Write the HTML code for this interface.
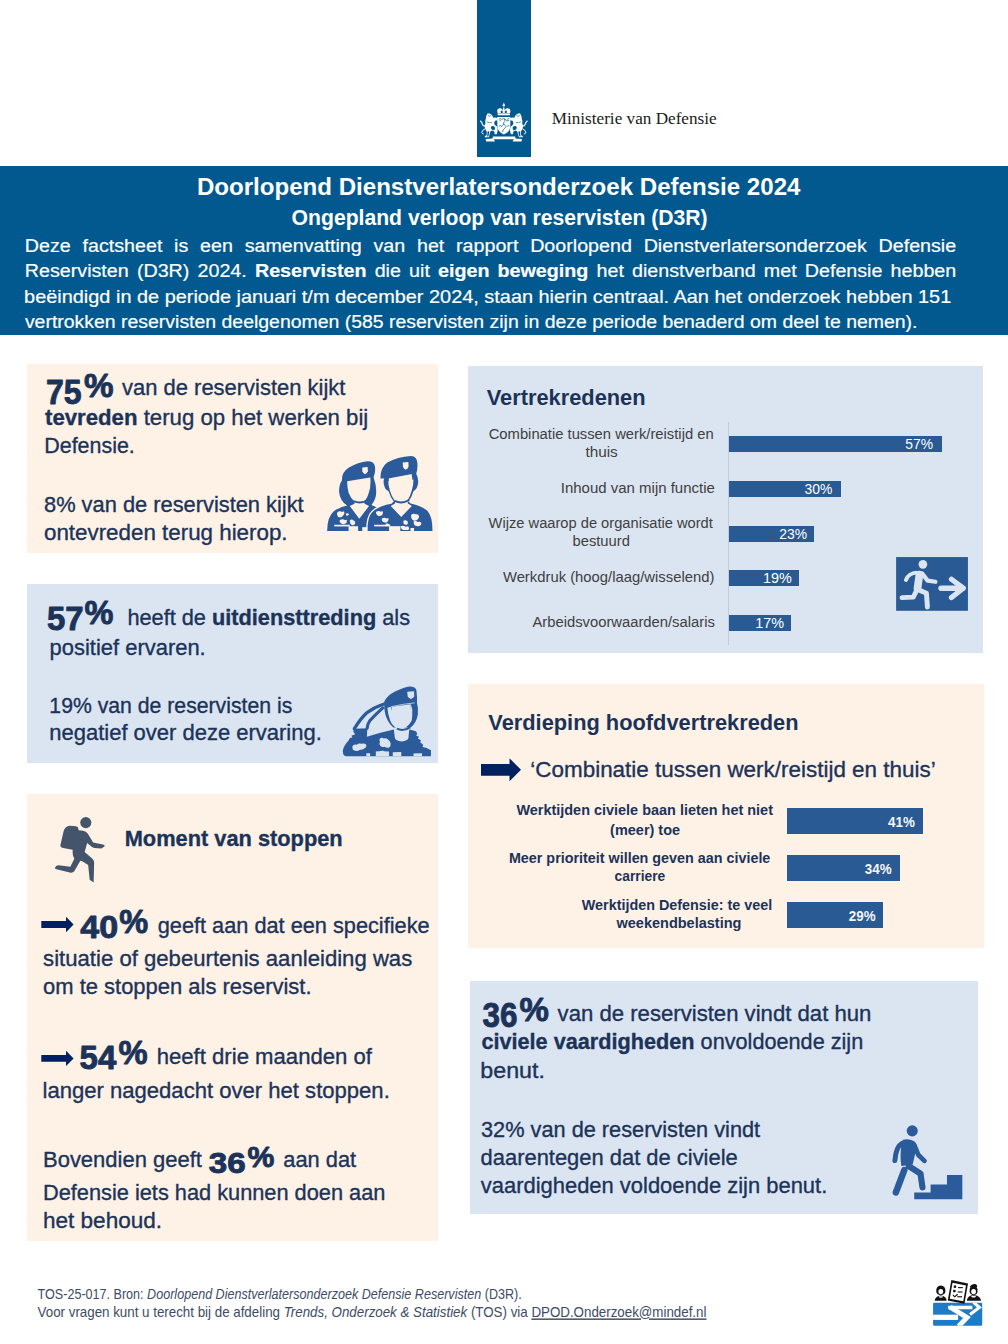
<!DOCTYPE html>
<html lang="nl"><head><meta charset="utf-8"><title>Ongepland verloop van reservisten (D3R)</title>
<style>
html,body{margin:0;padding:0;background:#fff;}
body{width:1008px;height:1344px;overflow:hidden;}
svg{display:block;}
text{font-kerning:normal;}
</style></head><body>
<svg width="1008" height="1344" viewBox="0 0 1008 1344">
<rect x="0" y="0" width="1008" height="1344" fill="#FFFFFF"/>
<!-- logo bar -->
<rect x="477" y="0" width="54" height="157" fill="#01598F"/>
<!-- crest -->
<g transform="translate(470 90) scale(0.069444)">
  <g id="lionL">
    <path fill="#FFFFFF" d="M255 335 Q295 335 318 362 Q332 385 336 400 L362 396 L398 404 L396 434 L362 442 Q346 460 350 490 Q362 515 392 530 Q405 570 392 612 L384 636 L352 636 L356 612 Q345 590 318 582 Q300 584 292 602 L282 642 Q275 668 268 682 L212 682 L216 662 L238 652 Q246 620 240 596 Q218 570 212 536 Q208 505 222 478 Q214 450 226 420 Q228 370 255 335 Z"/>
    <path fill="none" stroke="#FFFFFF" stroke-width="16" stroke-linecap="round" d="M222 520 Q185 520 178 490 Q172 462 150 446"/>
    <path fill="none" stroke="#FFFFFF" stroke-width="14" stroke-linecap="round" d="M214 560 Q175 575 170 610 Q170 630 190 632"/>
    <path fill="#01598F" d="M318 520 Q345 515 360 540 Q362 565 345 585 Q330 570 318 572 Q300 560 300 540 Q305 525 318 520 Z"/>
    <path fill="#01598F" d="M252 600 Q262 590 278 598 L270 650 L258 668 L246 668 Q254 640 252 600 Z"/>
    <path fill="none" stroke="#01598F" stroke-width="9" stroke-linecap="round" d="M262 372 Q282 382 300 372 M246 460 Q275 478 310 470"/>
  </g>
  <use href="#lionL" transform="translate(974 0) scale(-1 1)"/>
  <g fill="#FFFFFF">
    <circle cx="487" cy="220" r="17"/>
    <rect x="482" y="184" width="10" height="22"/>
    <path d="M392 300 Q392 262 434 262 Q466 264 474 290 Q478 250 487 242 Q496 250 500 290 Q508 264 540 262 Q582 262 582 300 L576 338 L398 338 Z"/>
    <rect x="398" y="342" width="178" height="22"/>
    <path d="M392 388 L582 388 L580 530 Q572 608 487 640 Q402 608 394 530 Z"/>
    <path d="M330 668 L650 668 L658 708 L322 708 Z"/>
    <path d="M226 704 L338 698 L360 740 L232 740 Z"/>
    <path d="M636 698 L748 704 L742 740 L614 740 Z"/>
  </g>
  <g fill="#01598F">
    <path d="M442 300 Q456 290 470 302 L472 330 L444 330 Z"/>
    <path d="M502 302 Q516 290 530 300 L528 330 L500 330 Z"/>
  </g>
  <g fill="none" stroke="#01598F" stroke-width="10" stroke-linecap="round" stroke-linejoin="round">
    <path d="M420 420 L440 412 M430 440 L450 430 M540 420 L560 412 M535 445 L556 438 M420 520 L440 512 M540 520 L560 512"/>
    <path d="M462 420 Q480 405 500 418 Q510 438 494 455 Q478 470 486 492 Q508 505 520 530 Q505 548 490 560 Q470 575 470 600 M486 492 Q460 505 450 530 M500 418 Q520 420 525 440"/>
  </g>
</g>

<!-- header band -->
<rect x="0" y="166" width="1008" height="169" fill="#01598F"/>

<!-- boxes -->
<rect x="27" y="364" width="411" height="189" fill="#FEF2E7"/>
<rect x="27" y="584" width="411" height="179" fill="#DBE5F1"/>
<rect x="27" y="794" width="411" height="447" fill="#FEF2E7"/>
<rect x="468" y="366" width="515" height="287" fill="#DBE5F1"/>
<rect x="468" y="684" width="516" height="264" fill="#FEF2E7"/>
<rect x="470" y="981" width="508" height="233" fill="#DBE5F1"/>

<!-- axis line vertrekredenen -->
<rect x="728" y="422" width="1" height="223" fill="#C5CCD8"/>

<!-- soldiers icon (box 1) -->
<g transform="translate(320 450) scale(0.119048)">
  <!-- female -->
  <path fill="#2B5B9B" d="M185 255 Q180 190 240 150 Q320 100 400 95 Q455 95 462 140 Q468 190 450 228 Q475 300 472 360 Q470 420 432 462 L470 478 Q520 500 520 560 L520 680 L60 680 Q60 560 118 512 Q168 480 228 466 Q168 430 160 350 Q160 290 185 255 Z"/>
  <path fill="#FEF2E7" d="M228 262 L422 232 Q430 300 410 360 Q395 410 372 430 L374 452 L412 470 L330 578 L250 470 L290 452 L292 432 Q255 405 240 360 Q228 310 228 262 Z"/>
  <path fill="none" stroke="#2B5B9B" stroke-width="16" d="M286 430 Q340 458 410 416"/>
  <!-- male -->
  <path fill="#2B5B9B" stroke="#FEF2E7" stroke-width="22" paint-order="stroke" d="M508 240 Q505 150 565 105 Q650 55 765 50 Q815 52 818 110 Q822 160 808 200 Q832 240 822 290 Q812 332 786 345 Q770 400 742 432 L762 450 Q860 470 905 515 Q945 560 945 680 L398 680 Q398 560 440 520 Q490 472 600 452 L620 432 Q590 395 575 345 Q548 335 540 300 Q528 262 540 240 Z"/>
  <path fill="#FEF2E7" d="M572 240 L785 200 Q790 280 770 345 Q755 395 735 425 L738 450 L772 470 L682 562 L594 470 L630 450 L630 428 Q600 390 588 345 Q572 300 572 240 Z"/>
  <path fill="none" stroke="#2B5B9B" stroke-width="16" d="M626 428 Q690 458 750 418"/>
  <!-- ear notches -->
  <path fill="#2B5B9B" d="M560 236 L578 236 L578 262 L566 262 Z"/>
  <path fill="#2B5B9B" d="M770 200 L790 200 L788 250 L776 250 Z"/>
  <!-- badges -->
  <path fill="#FEF2E7" d="M355 148 L400 142 L402 178 Q392 198 378 204 Q362 195 356 180 Z"/>
  <path fill="#FEF2E7" d="M695 105 L742 100 L744 140 Q734 160 720 165 Q702 156 697 140 Z"/>
  <!-- camo spots -->
  <g fill="#FEF2E7">
    <path d="M145 525 Q165 505 185 520 L200 515 Q212 530 198 545 L185 560 Q165 572 150 558 Q138 540 145 525 Z"/>
    <path d="M165 590 Q190 575 210 590 L225 585 Q232 605 215 618 Q195 628 178 618 Q160 606 165 590 Z"/>
    <path d="M215 535 Q232 525 245 540 Q238 555 222 552 Z"/>
    <path d="M250 590 Q268 578 282 592 L295 600 Q300 620 284 630 Q266 636 256 622 Z"/>
    <path d="M470 520 Q490 505 510 518 L525 512 Q535 530 522 545 Q505 560 486 552 Q468 540 470 520 Z"/>
    <path d="M520 575 Q540 562 560 575 L575 572 Q580 595 565 605 Q545 615 528 603 Q515 590 520 575 Z"/>
    <path d="M548 620 Q568 612 585 625 Q580 642 560 640 Z"/>
    <path d="M765 545 Q785 528 805 540 Q825 535 832 555 Q835 578 815 588 Q795 600 778 588 Q762 570 765 545 Z"/>
    <path d="M785 600 Q805 592 822 605 Q840 598 852 615 Q848 640 825 640 Q800 642 790 625 Z"/>
    <path d="M700 595 Q718 585 735 598 Q745 615 730 628 Q712 632 702 618 Z"/>
    <path d="M675 640 Q700 630 720 645 L740 640 Q755 655 745 672 L700 672 Q680 665 675 640 Z"/>
    <rect x="120" y="628" width="130" height="14"/>
    <rect x="455" y="628" width="135" height="14"/>
    <rect x="240" y="640" width="80" height="40"/>
    <rect x="355" y="648" width="43" height="32"/>
    <rect x="580" y="640" width="95" height="40"/>
    <rect x="760" y="655" width="30" height="25"/>
  </g>
</g>

<!-- salute icon (box 2) -->
<g transform="translate(330 675) scale(0.109122)">
  <!-- body -->
  <path fill="#2B5B9B" d="M118 690 Q125 650 172 598 L182 578 L205 572 L196 556 L232 542 L214 522 L222 492 L342 488 L338 566 Q450 530 585 500 Q600 590 655 600 Q715 595 728 500 Q770 508 790 518 L800 540 L788 552 L815 565 L806 582 L834 600 L826 616 L854 640 L848 660 L886 670 L925 690 L925 745 L145 745 Q112 735 118 690 Z"/>
  <!-- arm outlines -->
  <path fill="none" stroke="#2B5B9B" stroke-width="30" stroke-linecap="round" d="M490 268 Q405 295 335 348 Q275 405 222 494"/>
  <path fill="none" stroke="#2B5B9B" stroke-width="28" stroke-linecap="round" d="M484 302 Q425 355 365 418 Q343 450 340 490"/>
  <!-- head outline + beret -->
  <path fill="#2B5B9B" d="M496 248 Q520 190 600 150 Q680 110 730 105 Q785 105 792 140 Q800 200 797 259 Q812 300 805 364 Q790 440 740 482 L581 482 Q525 430 508 364 Q494 310 496 248 Z"/>
  <!-- face -->
  <path fill="#DBE5F1" d="M526 300 L558 292 L560 330 L566 292 L740 268 L742 315 L745 273 L754 318 Q756 380 749 418 Q730 460 695 480 Q650 492 608 487 Q560 450 549 409 Q528 350 526 300 Z"/>
  <!-- neck -->
  <path fill="#DBE5F1" d="M585 492 Q650 505 722 496 L720 575 Q712 606 658 609 Q600 606 594 575 Z"/>
  <path fill="none" stroke="#2B5B9B" stroke-width="18" d="M612 492 Q672 520 735 480"/>
  <!-- beret band highlight -->
  <path fill="none" stroke="#DBE5F1" stroke-width="7" d="M558 291 Q670 265 776 255"/>
  <!-- badge -->
  <path fill="#DBE5F1" d="M708 153 L770 150 L772 196 Q760 212 742 220 Q722 210 712 196 Z"/>
  <!-- camo -->
  <g fill="#DBE5F1">
    <path d="M206 650 Q222 628 245 640 Q262 622 290 630 Q318 622 332 640 Q338 662 318 672 Q300 690 276 684 Q252 700 230 694 Q204 690 206 670 Z"/>
    <path d="M456 585 Q472 568 494 582 Q515 576 532 592 Q552 606 556 628 Q560 652 540 666 Q520 672 500 658 Q478 666 462 650 Q446 632 458 612 Q448 598 456 585 Z"/>
    <path d="M333 718 L368 716 L368 745 L333 745 Z"/>
    <path d="M420 700 L470 696 Q482 688 494 698 L541 700 L541 745 L420 745 Z"/>
    <path d="M575 708 L653 706 L653 745 L575 745 Z"/>
    <path d="M765 720 L843 718 L843 745 L765 745 Z"/>
  </g>
</g>
</g>

<!-- running man (box 3) -->
<g transform="translate(45 810) scale(0.079365)" fill="#44546A">
  <circle cx="514" cy="159" r="70"/>
  <path d="M236 262 Q255 202 312 197 L390 206 Q428 216 422 262 L400 468 Q395 505 346 500 L229 479 Q188 470 195 437 Z"/>
  <path d="M400 252 L480 262 Q520 266 540 300 L607 410 L731 436 Q758 443 752 458 L710 486 L621 479 Q590 470 566 445 L531 415 L500 530 L594 612 Q624 640 619 672 L613 915 L563 878 L544 692 L469 647 L450 640 L375 622 Q340 575 350 495 L360 420 Z"/>
  <path d="M378 600 L452 628 L369 772 Q352 792 325 790 L144 747 L122 734 Q135 700 169 697 L319 716 Z"/>
</g>

<!-- exit sign -->
<g transform="translate(885 550) scale(0.094251)">
  <rect x="118" y="75" width="762" height="570" fill="#2A5A94"/>
  <g fill="#DBE5F1" stroke="#DBE5F1" stroke-linecap="round" stroke-linejoin="round">
    <circle cx="402" cy="152" r="46" stroke="none"/>
    <path fill="none" stroke-width="82" d="M365 262 L345 405"/>
    <path fill="none" stroke-width="42" d="M335 240 Q250 245 222 318"/>
    <path fill="none" stroke-width="45" d="M395 250 L452 325 L535 337"/>
    <path fill="none" stroke-width="52" d="M335 430 L300 500 L180 505"/>
    <path fill="none" stroke-width="52" d="M360 425 L440 460 L450 605"/>
    <path fill="none" stroke-width="58" d="M595 405 L825 405"/>
    <path fill="none" stroke-width="55" d="M705 310 L830 405 L705 505"/>
  </g>
</g>

<!-- stairs icon -->
<g transform="translate(880 1115) scale(0.099206)" fill="#2B5B9B" stroke="#2B5B9B" stroke-linecap="round" stroke-linejoin="round">
  <path stroke="none" d="M345 780 L510 780 L510 700 L675 700 L675 605 L830 605 L830 850 L345 850 Z"/>
  <circle cx="325" cy="160" r="56" stroke="none"/>
  <path stroke="none" d="M230 250 Q290 235 345 265 Q370 290 368 330 L330 500 L215 515 Q200 420 215 300 Z"/>
  <path fill="none" stroke-width="50" d="M225 285 Q160 320 150 460"/>
  <path fill="none" stroke-width="48" d="M345 300 L385 400 L448 462"/>
  <path fill="none" stroke-width="66" d="M245 555 L160 780"/>
  <path fill="none" stroke-width="62" d="M290 515 L408 590 L428 730"/>
</g>

<!-- arrows -->
<g fill="#002060">
  <path d="M41.3 921 L66 921 L66 916.8 L73.6 924.5 L66 932.2 L66 928 L41.3 928 Z"/>
  <path d="M41.3 1055 L66 1055 L66 1050.8 L73.6 1058.4 L66 1066 L66 1061.8 L41.3 1061.8 Z"/>
  <path d="M481 763.9 L509.5 763.9 L509.5 758.3 L521 769.8 L509.5 781.3 L509.5 775.8 L481 775.8 Z"/>
</g>

<!-- footer icon -->
<g transform="translate(920 1270) scale(0.079365)">
  <defs><clipPath id="fclip"><rect x="165" y="412" width="619" height="291" rx="17"/></clipPath></defs>
  <rect x="165" y="412" width="619" height="291" rx="17" fill="#1E7BC8"/>
  <g clip-path="url(#fclip)" fill="#FFFFFF" stroke="#FFFFFF" stroke-linejoin="miter">
    <rect x="150" y="563" width="330" height="66" stroke="none"/>
    <path fill="none" stroke-width="62" d="M380 468 L592 598 L485 710"/>
    <path stroke="none" d="M357 451 L660 451 L660 496 L357 496 Q345 473 357 451 Z"/>
    <path fill="none" stroke-width="40" d="M672 405 L748 472 L630 560"/>
  </g>
  <g fill="#111111">
    <path d="M205 270 Q200 200 262 196 Q325 200 320 270 Q318 310 262 318 Q208 310 205 270 Z"/>
    <path d="M185 388 Q190 332 262 322 Q335 332 335 388 Z"/>
    <path d="M395 125 L605 170 L560 425 L350 385 Z"/>
    <path d="M625 270 Q620 200 675 196 Q730 200 725 270 Q722 310 675 318 Q628 310 625 270 Z"/>
    <path d="M625 215 Q650 172 705 178 Q725 190 720 215 Z"/>
    <path d="M590 388 Q595 322 675 316 Q760 322 770 388 Z"/>
  </g>
  <path fill="#FFFFFF" d="M410 160 L580 195 L545 395 L375 362 Z"/>
  <g fill="#111111">
    <rect x="425" y="195" width="30" height="30"/>
    <rect x="418" y="250" width="30" height="30"/>
    <path d="M410 320 L425 310 L435 330 L470 300 L480 312 L437 348 Z"/>
    <rect x="480" y="215" width="60" height="14"/>
    <rect x="475" y="270" width="60" height="14"/>
    <rect x="470" y="330" width="60" height="14"/>
  </g>
  <ellipse cx="262" cy="272" rx="30" ry="34" fill="#FFFFFF"/>
  <ellipse cx="675" cy="272" rx="30" ry="34" fill="#FFFFFF"/>
  <path fill="#FFFFFF" d="M232 340 Q262 360 292 340 L285 330 L240 330 Z"/>
  <path fill="#FFFFFF" d="M645 336 Q675 358 705 336 L698 326 L652 326 Z"/>
</g>

<rect x="729" y="436" width="213" height="16" fill="#2A5A94"/>
<rect x="729" y="481" width="112" height="16" fill="#2A5A94"/>
<rect x="729" y="526" width="85" height="16" fill="#2A5A94"/>
<rect x="729" y="570" width="70" height="16" fill="#2A5A94"/>
<rect x="729" y="615" width="62" height="16" fill="#2A5A94"/>
<rect x="787" y="808" width="136" height="26" fill="#2A5A94"/>
<rect x="787" y="855" width="113" height="26" fill="#2A5A94"/>
<rect x="787" y="902" width="96" height="26" fill="#2A5A94"/>
<text transform="translate(551.70 123.80) scale(1.0105 1)" fill="#1A1A1A" style="font-family:'Liberation Serif', serif;font-size:17.00px;">Ministerie van Defensie</text>
<text transform="translate(196.90 194.60) scale(1.0040 1)" fill="#FFFFFF" style="font-family:'Liberation Sans', Arial, sans-serif;font-size:24.00px;"><tspan font-weight="bold">Doorlopend Dienstverlatersonderzoek Defensie 2024</tspan></text>
<text transform="translate(291.60 224.60) scale(0.9705 1)" fill="#FFFFFF" style="font-family:'Liberation Sans', Arial, sans-serif;font-size:21.80px;"><tspan font-weight="bold">Ongepland verloop van reservisten (D3R)</tspan></text>
<text transform="translate(24.82 251.80) scale(1.0756 1)" fill="#FFFFFF" style="font-family:'Liberation Sans', Arial, sans-serif;font-size:18.30px;word-spacing:5.84px;stroke:#FFFFFF;stroke-width:0.20px;stroke-linejoin:round;">Deze factsheet is een samenvatting van het rapport Doorlopend Dienstverlatersonderzoek Defensie</text>
<text transform="translate(24.82 276.90) scale(1.0756 1)" fill="#FFFFFF" style="font-family:'Liberation Sans', Arial, sans-serif;font-size:18.30px;word-spacing:2.50px;stroke:#FFFFFF;stroke-width:0.20px;stroke-linejoin:round;">Reservisten (D3R) 2024. <tspan font-weight="bold">Reservisten</tspan> die uit <tspan font-weight="bold">eigen beweging</tspan> het dienstverband met Defensie hebben</text>
<text transform="translate(24.11 302.90) scale(1.0884 1)" fill="#FFFFFF" style="font-family:'Liberation Sans', Arial, sans-serif;font-size:18.30px;stroke:#FFFFFF;stroke-width:0.20px;stroke-linejoin:round;">beëindigd in de periode januari t/m december 2024, staan hierin centraal. Aan het onderzoek hebben 151</text>
<text transform="translate(24.90 327.90) scale(1.0627 1)" fill="#FFFFFF" style="font-family:'Liberation Sans', Arial, sans-serif;font-size:18.30px;stroke:#FFFFFF;stroke-width:0.20px;stroke-linejoin:round;">vertrokken reservisten deelgenomen (585 reservisten zijn in deze periode benaderd om deel te nemen).</text>
<text transform="translate(46.00 403.80) scale(0.9035 1)" fill="#1C3359" style="font-family:'Liberation Sans', Arial, sans-serif;font-size:35.50px;stroke:#1C3359;stroke-width:0.90px;stroke-linejoin:round;"><tspan font-weight="bold">75</tspan></text>
<text transform="translate(84.00 397.00) scale(1.0069 1)" fill="#1C3359" style="font-family:'Liberation Sans', Arial, sans-serif;font-size:33.00px;stroke:#1C3359;stroke-width:0.90px;stroke-linejoin:round;"><tspan font-weight="bold">%</tspan></text>
<text transform="translate(122.10 394.80) scale(0.9984 1)" fill="#1C3359" style="font-family:'Liberation Sans', Arial, sans-serif;font-size:22.00px;stroke:#1C3359;stroke-width:0.35px;stroke-linejoin:round;">van de reservisten kijkt</text>
<text transform="translate(45.00 424.90) scale(1.0094 1)" fill="#1C3359" style="font-family:'Liberation Sans', Arial, sans-serif;font-size:22.00px;stroke:#1C3359;stroke-width:0.35px;stroke-linejoin:round;"><tspan font-weight="bold">tevreden</tspan> terug op het werken bij</text>
<text transform="translate(44.23 453.20) scale(0.9744 1)" fill="#1C3359" style="font-family:'Liberation Sans', Arial, sans-serif;font-size:22.00px;stroke:#1C3359;stroke-width:0.35px;stroke-linejoin:round;">Defensie.</text>
<text transform="translate(44.00 511.80) scale(0.9933 1)" fill="#1C3359" style="font-family:'Liberation Sans', Arial, sans-serif;font-size:22.00px;stroke:#1C3359;stroke-width:0.35px;stroke-linejoin:round;">8% van de reservisten kijkt</text>
<text transform="translate(44.00 540.40) scale(1.0163 1)" fill="#1C3359" style="font-family:'Liberation Sans', Arial, sans-serif;font-size:22.00px;stroke:#1C3359;stroke-width:0.35px;stroke-linejoin:round;">ontevreden terug hierop.</text>
<text transform="translate(46.92 630.20) scale(0.9823 1)" fill="#1C3359" style="font-family:'Liberation Sans', Arial, sans-serif;font-size:33.50px;stroke:#1C3359;stroke-width:0.90px;stroke-linejoin:round;"><tspan font-weight="bold">57</tspan></text>
<text transform="translate(84.40 624.40) scale(0.9862 1)" fill="#1C3359" style="font-family:'Liberation Sans', Arial, sans-serif;font-size:33.00px;stroke:#1C3359;stroke-width:0.90px;stroke-linejoin:round;"><tspan font-weight="bold">%</tspan></text>
<text transform="translate(127.41 624.50) scale(0.9885 1)" fill="#1C3359" style="font-family:'Liberation Sans', Arial, sans-serif;font-size:22.00px;stroke:#1C3359;stroke-width:0.35px;stroke-linejoin:round;">heeft de <tspan font-weight="bold">uitdiensttreding</tspan> als</text>
<text transform="translate(49.60 655.30) scale(0.9973 1)" fill="#1C3359" style="font-family:'Liberation Sans', Arial, sans-serif;font-size:22.00px;stroke:#1C3359;stroke-width:0.35px;stroke-linejoin:round;">positief ervaren.</text>
<text transform="translate(49.34 712.60) scale(0.9645 1)" fill="#1C3359" style="font-family:'Liberation Sans', Arial, sans-serif;font-size:22.00px;stroke:#1C3359;stroke-width:0.35px;stroke-linejoin:round;">19% van de reservisten is</text>
<text transform="translate(49.30 740.40) scale(0.9996 1)" fill="#1C3359" style="font-family:'Liberation Sans', Arial, sans-serif;font-size:22.00px;stroke:#1C3359;stroke-width:0.35px;stroke-linejoin:round;">negatief over deze ervaring.</text>
<text transform="translate(124.71 846.40) scale(0.9914 1)" fill="#1C3359" style="font-family:'Liberation Sans', Arial, sans-serif;font-size:22.00px;stroke:#1C3359;stroke-width:0.35px;stroke-linejoin:round;"><tspan font-weight="bold">Moment van stoppen</tspan></text>
<text transform="translate(80.30 937.50) scale(1.0806 1)" fill="#1C3359" style="font-family:'Liberation Sans', Arial, sans-serif;font-size:31.50px;stroke:#1C3359;stroke-width:0.90px;stroke-linejoin:round;"><tspan font-weight="bold">40</tspan></text>
<text transform="translate(119.20 932.50) scale(0.9862 1)" fill="#1C3359" style="font-family:'Liberation Sans', Arial, sans-serif;font-size:33.00px;stroke:#1C3359;stroke-width:0.90px;stroke-linejoin:round;"><tspan font-weight="bold">%</tspan></text>
<text transform="translate(157.70 932.80) scale(0.9888 1)" fill="#1C3359" style="font-family:'Liberation Sans', Arial, sans-serif;font-size:22.00px;stroke:#1C3359;stroke-width:0.35px;stroke-linejoin:round;">geeft aan dat een specifieke</text>
<text transform="translate(43.10 965.90) scale(1.0065 1)" fill="#1C3359" style="font-family:'Liberation Sans', Arial, sans-serif;font-size:22.00px;stroke:#1C3359;stroke-width:0.35px;stroke-linejoin:round;">situatie of gebeurtenis aanleiding was</text>
<text transform="translate(43.10 993.90) scale(0.9982 1)" fill="#1C3359" style="font-family:'Liberation Sans', Arial, sans-serif;font-size:22.00px;stroke:#1C3359;stroke-width:0.35px;stroke-linejoin:round;">om te stoppen als reservist.</text>
<text transform="translate(79.59 1069.30) scale(1.0150 1)" fill="#1C3359" style="font-family:'Liberation Sans', Arial, sans-serif;font-size:32.50px;stroke:#1C3359;stroke-width:0.90px;stroke-linejoin:round;"><tspan font-weight="bold">54</tspan></text>
<text transform="translate(118.40 1063.80) scale(0.9931 1)" fill="#1C3359" style="font-family:'Liberation Sans', Arial, sans-serif;font-size:33.00px;stroke:#1C3359;stroke-width:0.90px;stroke-linejoin:round;"><tspan font-weight="bold">%</tspan></text>
<text transform="translate(156.69 1063.80) scale(1.0064 1)" fill="#1C3359" style="font-family:'Liberation Sans', Arial, sans-serif;font-size:22.00px;stroke:#1C3359;stroke-width:0.35px;stroke-linejoin:round;">heeft drie maanden of</text>
<text transform="translate(42.50 1097.50) scale(1.0037 1)" fill="#1C3359" style="font-family:'Liberation Sans', Arial, sans-serif;font-size:22.00px;stroke:#1C3359;stroke-width:0.35px;stroke-linejoin:round;">langer nagedacht over het stoppen.</text>
<text transform="translate(43.00 1166.80) scale(0.9993 1)" fill="#1C3359" style="font-family:'Liberation Sans', Arial, sans-serif;font-size:22.00px;stroke:#1C3359;stroke-width:0.35px;stroke-linejoin:round;">Bovendien geeft</text>
<text transform="translate(208.80 1173.00) scale(1.1423 1)" fill="#1C3359" style="font-family:'Liberation Sans', Arial, sans-serif;font-size:29.00px;stroke:#1C3359;stroke-width:0.90px;stroke-linejoin:round;"><tspan font-weight="bold">36</tspan></text>
<text transform="translate(247.50 1166.70) scale(1.0231 1)" fill="#1C3359" style="font-family:'Liberation Sans', Arial, sans-serif;font-size:29.50px;stroke:#1C3359;stroke-width:0.90px;stroke-linejoin:round;"><tspan font-weight="bold">%</tspan></text>
<text transform="translate(283.30 1166.80) scale(0.9920 1)" fill="#1C3359" style="font-family:'Liberation Sans', Arial, sans-serif;font-size:22.00px;stroke:#1C3359;stroke-width:0.35px;stroke-linejoin:round;">aan dat</text>
<text transform="translate(43.01 1199.80) scale(0.9895 1)" fill="#1C3359" style="font-family:'Liberation Sans', Arial, sans-serif;font-size:22.00px;stroke:#1C3359;stroke-width:0.35px;stroke-linejoin:round;">Defensie iets had kunnen doen aan</text>
<text transform="translate(42.97 1227.70) scale(1.0253 1)" fill="#1C3359" style="font-family:'Liberation Sans', Arial, sans-serif;font-size:22.00px;stroke:#1C3359;stroke-width:0.35px;stroke-linejoin:round;">het behoud.</text>
<text transform="translate(486.70 404.60) scale(1.0153 1)" fill="#1C3359" style="font-family:'Liberation Sans', Arial, sans-serif;font-size:21.50px;"><tspan font-weight="bold">Vertrekredenen</tspan></text>
<text transform="translate(488.70 438.70) scale(0.9864 1)" fill="#404040" style="font-family:'Liberation Sans', Arial, sans-serif;font-size:15.00px;">Combinatie tussen werk/reistijd en</text>
<text transform="translate(585.40 457.20) scale(1.0229 1)" fill="#404040" style="font-family:'Liberation Sans', Arial, sans-serif;font-size:15.00px;">thuis</text>
<text transform="translate(560.80 492.80) scale(0.9992 1)" fill="#404040" style="font-family:'Liberation Sans', Arial, sans-serif;font-size:15.00px;">Inhoud van mijn functie</text>
<text transform="translate(488.60 527.90) scale(0.9791 1)" fill="#404040" style="font-family:'Liberation Sans', Arial, sans-serif;font-size:15.00px;">Wijze waarop de organisatie wordt</text>
<text transform="translate(572.50 546.40) scale(0.9839 1)" fill="#404040" style="font-family:'Liberation Sans', Arial, sans-serif;font-size:15.00px;">bestuurd</text>
<text transform="translate(502.90 582.10) scale(0.9893 1)" fill="#404040" style="font-family:'Liberation Sans', Arial, sans-serif;font-size:15.00px;">Werkdruk (hoog/laag/wisselend)</text>
<text transform="translate(532.50 626.80) scale(0.9865 1)" fill="#404040" style="font-family:'Liberation Sans', Arial, sans-serif;font-size:15.00px;">Arbeidsvoorwaarden/salaris</text>
<text transform="translate(905.20 449.40) scale(0.9264 1)" fill="#FFFFFF" style="font-family:'Liberation Sans', Arial, sans-serif;font-size:15.00px;">57%</text>
<text transform="translate(804.50 494.40) scale(0.9264 1)" fill="#FFFFFF" style="font-family:'Liberation Sans', Arial, sans-serif;font-size:15.00px;">30%</text>
<text transform="translate(779.30 539.40) scale(0.9264 1)" fill="#FFFFFF" style="font-family:'Liberation Sans', Arial, sans-serif;font-size:15.00px;">23%</text>
<text transform="translate(762.94 583.40) scale(0.9587 1)" fill="#FFFFFF" style="font-family:'Liberation Sans', Arial, sans-serif;font-size:15.00px;">19%</text>
<text transform="translate(755.14 628.40) scale(0.9587 1)" fill="#FFFFFF" style="font-family:'Liberation Sans', Arial, sans-serif;font-size:15.00px;">17%</text>
<text transform="translate(488.30 729.50) scale(1.0011 1)" fill="#1C3359" style="font-family:'Liberation Sans', Arial, sans-serif;font-size:21.80px;"><tspan font-weight="bold">Verdieping hoofdvertrekreden</tspan></text>
<text transform="translate(530.28 776.60) scale(1.0207 1)" fill="#1C3359" style="font-family:'Liberation Sans', Arial, sans-serif;font-size:22.00px;stroke:#1C3359;stroke-width:0.35px;stroke-linejoin:round;">‘Combinatie tussen werk/reistijd en thuis’</text>
<text transform="translate(516.40 815.20) scale(0.9900 1)" fill="#1C3359" style="font-family:'Liberation Sans', Arial, sans-serif;font-size:14.60px;"><tspan font-weight="bold">Werktijden civiele baan lieten het niet</tspan></text>
<text transform="translate(610.10 834.60) scale(0.9924 1)" fill="#1C3359" style="font-family:'Liberation Sans', Arial, sans-serif;font-size:14.60px;"><tspan font-weight="bold">(meer) toe</tspan></text>
<text transform="translate(508.90 862.90) scale(0.9827 1)" fill="#1C3359" style="font-family:'Liberation Sans', Arial, sans-serif;font-size:14.60px;"><tspan font-weight="bold">Meer prioriteit willen geven aan civiele</tspan></text>
<text transform="translate(614.60 881.30) scale(0.9468 1)" fill="#1C3359" style="font-family:'Liberation Sans', Arial, sans-serif;font-size:14.60px;"><tspan font-weight="bold">carriere</tspan></text>
<text transform="translate(581.80 910.20) scale(0.9844 1)" fill="#1C3359" style="font-family:'Liberation Sans', Arial, sans-serif;font-size:14.60px;"><tspan font-weight="bold">Werktijden Defensie: te veel</tspan></text>
<text transform="translate(616.49 928.00) scale(0.9937 1)" fill="#1C3359" style="font-family:'Liberation Sans', Arial, sans-serif;font-size:14.60px;"><tspan font-weight="bold">weekendbelasting</tspan></text>
<text transform="translate(888.10 827.00) scale(0.8643 1)" fill="#F4F6FA" style="font-family:'Liberation Sans', Arial, sans-serif;font-size:15.50px;"><tspan font-weight="bold">41%</tspan></text>
<text transform="translate(864.80 874.00) scale(0.8643 1)" fill="#F4F6FA" style="font-family:'Liberation Sans', Arial, sans-serif;font-size:15.50px;"><tspan font-weight="bold">34%</tspan></text>
<text transform="translate(848.80 921.00) scale(0.8643 1)" fill="#F4F6FA" style="font-family:'Liberation Sans', Arial, sans-serif;font-size:15.50px;"><tspan font-weight="bold">29%</tspan></text>
<text transform="translate(482.60 1027.10) scale(0.8969 1)" fill="#1C3359" style="font-family:'Liberation Sans', Arial, sans-serif;font-size:35.00px;stroke:#1C3359;stroke-width:0.90px;stroke-linejoin:round;"><tspan font-weight="bold">36</tspan></text>
<text transform="translate(519.50 1020.70) scale(0.9862 1)" fill="#1C3359" style="font-family:'Liberation Sans', Arial, sans-serif;font-size:33.50px;stroke:#1C3359;stroke-width:0.90px;stroke-linejoin:round;"><tspan font-weight="bold">%</tspan></text>
<text transform="translate(557.60 1020.70) scale(1.0067 1)" fill="#1C3359" style="font-family:'Liberation Sans', Arial, sans-serif;font-size:22.00px;stroke:#1C3359;stroke-width:0.35px;stroke-linejoin:round;">van de reservisten vindt dat hun</text>
<text transform="translate(481.40 1048.70) scale(0.9854 1)" fill="#1C3359" style="font-family:'Liberation Sans', Arial, sans-serif;font-size:22.00px;stroke:#1C3359;stroke-width:0.35px;stroke-linejoin:round;"><tspan font-weight="bold">civiele vaardigheden</tspan> onvoldoende zijn</text>
<text transform="translate(480.34 1078.30) scale(1.0567 1)" fill="#1C3359" style="font-family:'Liberation Sans', Arial, sans-serif;font-size:22.00px;stroke:#1C3359;stroke-width:0.35px;stroke-linejoin:round;">benut.</text>
<text transform="translate(481.00 1136.80) scale(0.9888 1)" fill="#1C3359" style="font-family:'Liberation Sans', Arial, sans-serif;font-size:22.00px;stroke:#1C3359;stroke-width:0.35px;stroke-linejoin:round;">32% van de reservisten vindt</text>
<text transform="translate(480.60 1164.70) scale(0.9967 1)" fill="#1C3359" style="font-family:'Liberation Sans', Arial, sans-serif;font-size:22.00px;stroke:#1C3359;stroke-width:0.35px;stroke-linejoin:round;">daarentegen dat de civiele</text>
<text transform="translate(480.80 1193.30) scale(0.9975 1)" fill="#1C3359" style="font-family:'Liberation Sans', Arial, sans-serif;font-size:22.00px;stroke:#1C3359;stroke-width:0.35px;stroke-linejoin:round;">vaardigheden voldoende zijn benut.</text>
<text transform="translate(37.60 1298.90) scale(0.8682 1)" fill="#3D4B66" style="font-family:'Liberation Sans', Arial, sans-serif;font-size:14.50px;">TOS-25-017. Bron: <tspan font-style="italic">Doorlopend Dienstverlatersonderzoek Defensie Reservisten</tspan> (D3R).</text>
<text transform="translate(37.60 1317.40) scale(0.9202 1)" fill="#3D4B66" style="font-family:'Liberation Sans', Arial, sans-serif;font-size:14.50px;">Voor vragen kunt u terecht bij de afdeling <tspan font-style="italic">Trends, Onderzoek &amp; Statistiek</tspan> (TOS) via <tspan text-decoration="underline">DPOD.Onderzoek@mindef.nl</tspan></text>
</svg>
</body></html>
